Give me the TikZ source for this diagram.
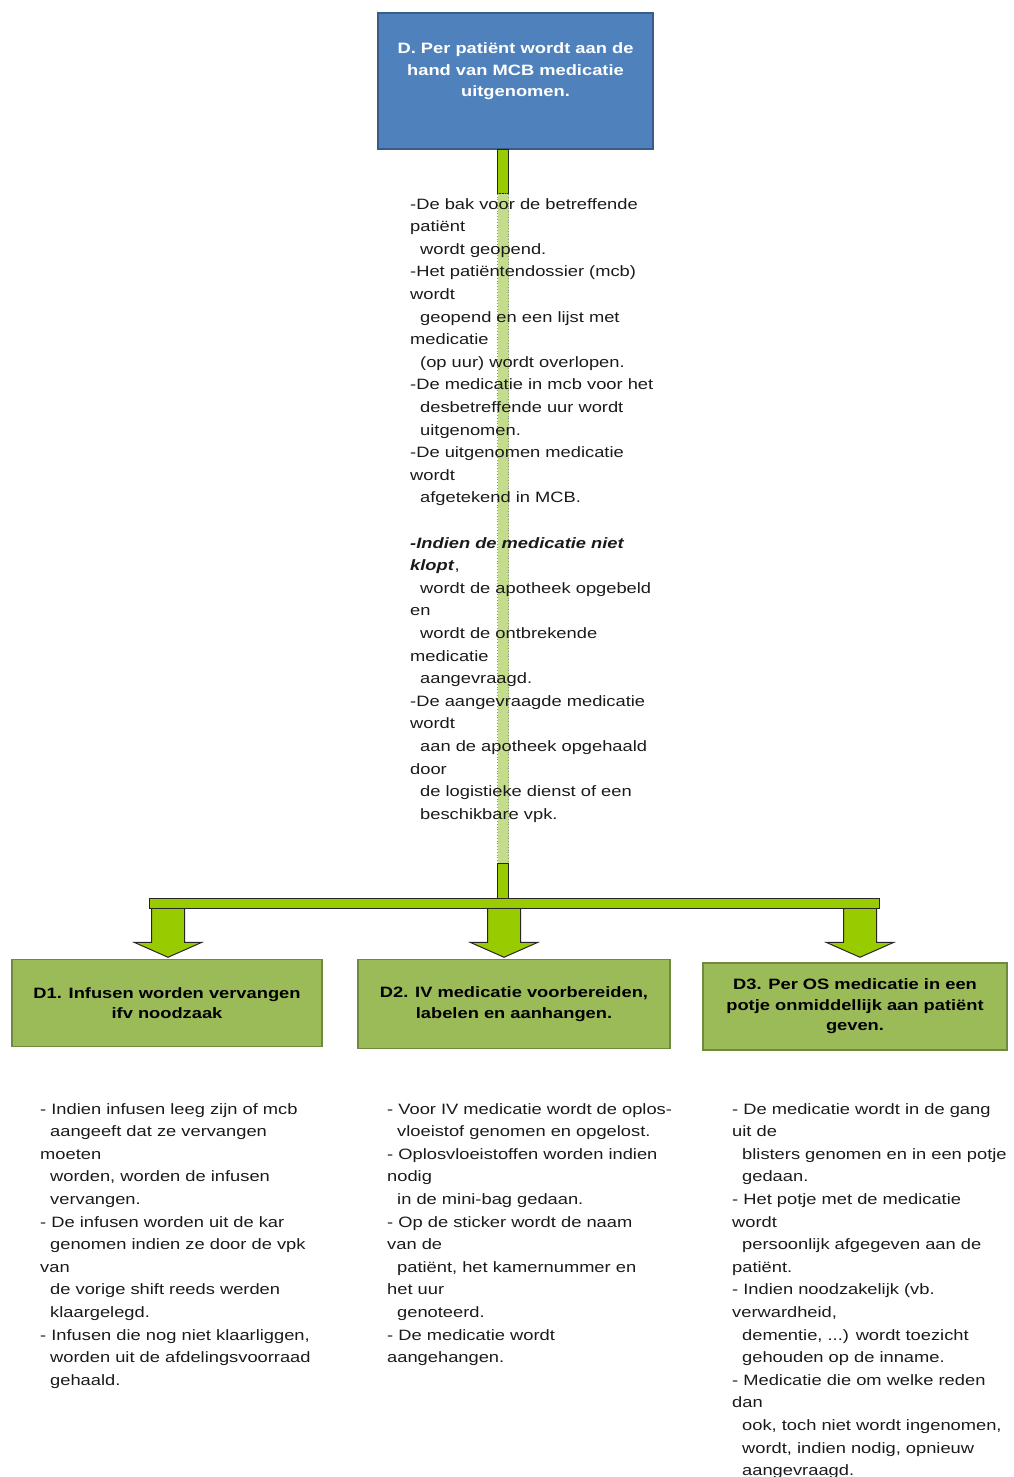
\documentclass[tikz,border=0pt]{standalone}
\usepackage{fontspec}
\setmainfont{Liberation Sans}[FakeStretch=1.22]
\usetikzlibrary{calc}

\definecolor{hdrblue}{HTML}{4F81BD}
\definecolor{hdredge}{HTML}{385D8A}
\definecolor{stepgreen}{HTML}{9BBB59}
\definecolor{stepedge}{HTML}{71893F}
\definecolor{limegreen}{HTML}{99CC00}
\definecolor{palelime}{HTML}{C4DD8C}
\definecolor{bodytext}{HTML}{1A1A1A}

% indentation of continued lines
\newcommand\ind{\hspace*{10pt}}

\begin{document}
\begin{tikzpicture}[x=1pt,y=-1pt,
  header/.style={draw=hdredge, line width=1.5pt, fill=hdrblue, text=white,
    font=\fontsize{15}{21.5}\selectfont\bfseries, align=center,
    minimum width=275pt, minimum height=136pt, inner sep=0pt},
  stepbox/.style={draw=stepedge, line width=1.5pt, fill=stepgreen, text=black,
    font=\fontsize{15}{20.5}\selectfont\bfseries, align=center, inner sep=0pt},
  bodytxt/.style={anchor=north west, inner sep=0pt, align=left, text=bodytext,
    font=\fontsize{15}{22.6}\selectfont},
  limeshape/.style={draw=black!85, line width=1pt, fill=limegreen, line join=miter},
  paleshape/.style={draw=black!45, line width=0.8pt, dotted, fill=palelime}
]
\useasboundingbox (0,0) rectangle (1014,1477);

% main step
\node[header] (hdr) at (515.5,81)
  {D. Per patiënt wordt aan de\\hand van MCB medicatie\\uitgenomen.\rule[-22pt]{0pt}{22pt}};

% sub steps
\node[stepbox, minimum width=310pt, minimum height=87pt] (d1) at (167,1003)
  {D1. Infusen worden vervangen\\ifv noodzaak};
\node[stepbox, minimum width=312pt, minimum height=89pt] (d2) at (514,1004)
  {D2. IV medicatie voorbereiden,\\labelen en aanhangen.};
\node[stepbox, minimum width=304pt, minimum height=87pt] (d3) at (855,1006.5)
  {D3. Per OS medicatie in een\\potje onmiddellijk aan patiënt\\geven.};

% connector: stem, pale run, stem, bar and three block arrows
\coordinate (stemtop) at ($(hdr.south)+(-12.5,0)$);
\coordinate (barleft) at (149,898);
\coordinate (barright) at (879,908);
\coordinate (tip1) at ($(d1.north)+(1,-1.5)$);
\coordinate (tip2) at ($(d2.north)+(-10,-1.5)$);
\coordinate (tip3) at ($(d3.north)+(5,-5)$);

\draw[limeshape] ($(stemtop)+(-5.5,0)$) rectangle ($(stemtop)+(5.5,44)$);
\draw[paleshape] ($(stemtop)+(-5.5,44)$) rectangle ($(stemtop)+(5.5,714)$);
\draw[limeshape] ($(stemtop)+(-5.5,714)$) rectangle ($(stemtop)+(5.5,749)$);

\foreach \t in {tip1,tip2,tip3}{
  \draw[limeshape] ($(\t)+(-16.5,-50)$) -- ($(\t)+(16.5,-50)$) -- ($(\t)+(16.5,-15)$)
    -- ($(\t)+(34,-15)$) -- (\t) -- ($(\t)+(-34,-15)$) -- ($(\t)+(-16.5,-15)$) -- cycle;
}
\draw[limeshape] (barleft) rectangle (barright);

% description of the main step
\node[bodytxt] (ptxt) at (410,198) {%
-De bak voor de betreffende\\
patiënt\\
\ind wordt geopend.\\
-Het patiëntendossier (mcb)\\
wordt\\
\ind geopend en een lijst met\\
medicatie\\
\ind (op uur) wordt overlopen.\\
-De medicatie in mcb voor het\\
\ind desbetreffende uur wordt\\
\ind uitgenomen.\\
-De uitgenomen medicatie\\
wordt\\
\ind afgetekend in MCB.\\[22.6pt]
\textbf{\textit{-Indien de medicatie niet}}\\
\textbf{\textit{klopt}},\\
\ind wordt de apotheek opgebeld\\
en\\
\ind wordt de ontbrekende\\
medicatie\\
\ind aangevraagd.\\
-De aangevraagde medicatie\\
wordt\\
\ind aan de apotheek opgehaald\\
door\\
\ind de logistieke dienst of een\\
\ind beschikbare vpk.};

% descriptions of the sub steps
\node[bodytxt] (t1) at (40,1103) {%
- Indien infusen leeg zijn of mcb\\
\ind aangeeft dat ze vervangen\\
moeten\\
\ind worden, worden de infusen\\
\ind vervangen.\\
- De infusen worden uit de kar\\
\ind genomen indien ze door de vpk\\
van\\
\ind de vorige shift reeds werden\\
\ind klaargelegd.\\
- Infusen die nog niet klaarliggen,\\
\ind worden uit de afdelingsvoorraad\\
\ind gehaald.};

\node[bodytxt] (t2) at (387,1103) {%
- Voor IV medicatie wordt de oplos-\\
\ind vloeistof genomen en opgelost.\\
- Oplosvloeistoffen worden indien\\
nodig\\
\ind in de mini-bag gedaan.\\
- Op de sticker wordt de naam\\
van de\\
\ind patiënt, het kamernummer en\\
het uur\\
\ind genoteerd.\\
- De medicatie wordt\\
aangehangen.};

\node[bodytxt] (t3) at (732,1103) {%
- De medicatie wordt in de gang\\
uit de\\
\ind blisters genomen en in een potje\\
\ind gedaan.\\
- Het potje met de medicatie\\
wordt\\
\ind persoonlijk afgegeven aan de\\
patiënt.\\
- Indien noodzakelijk (vb.\\
verwardheid,\\
\ind dementie, ...) wordt toezicht\\
\ind gehouden op de inname.\\
- Medicatie die om welke reden\\
dan\\
\ind ook, toch niet wordt ingenomen,\\
\ind wordt, indien nodig, opnieuw\\
\ind aangevraagd.};
\end{tikzpicture}
\end{document}
